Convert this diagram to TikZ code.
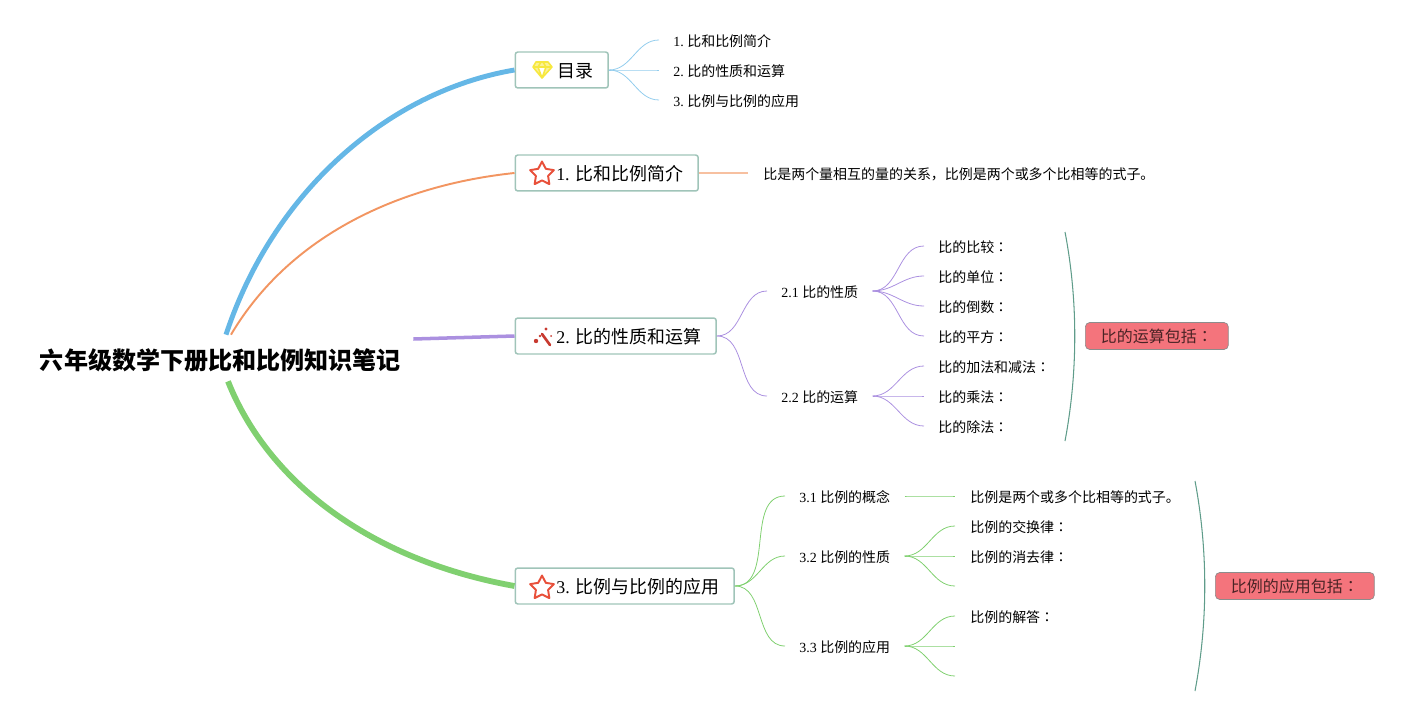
\documentclass[tikz,border=0pt]{standalone}
\usepackage{fontspec}
\setmainfont{Liberation Serif}
\newfontfamily\cjk{Noto Sans CJK SC}
\newfontfamily\cjkjp{Noto Sans CJK JP}
\newcommand{\colonmark}{{\cjkjp ：}}
\usetikzlibrary{shapes.geometric}
\definecolor{tocblue}{HTML}{65B7E6}
\definecolor{introorange}{HTML}{F29561}
\definecolor{rulepurple}{HTML}{AB90E0}
\definecolor{usegreen}{HTML}{80D070}
\definecolor{boxedge}{HTML}{A0C4B9}
\definecolor{bracket}{HTML}{5F9C8A}
\definecolor{summaryfill}{HTML}{F4747C}
\definecolor{starred}{HTML}{E8503A}
\definecolor{wandred}{HTML}{C83A30}
\definecolor{gemyellow}{HTML}{F7E840}
\tikzset{
    rootnode/.style={inner sep=0pt, minimum width=7.2cm, minimum height=0.92cm, text height=13.4pt, text depth=0pt, font=\fontsize{13.7}{16}\selectfont\cjk\bfseries},
    mainbox/.style={draw=boxedge, line width=0.85pt, rounded corners=1.5pt, anchor=west, inner xsep=0.3cm, inner ysep=0pt, minimum height=0.72cm, text width=#1, text height=9.8pt, text depth=1pt, align=right, font=\fontsize{10.2}{12}\selectfont},
    leaf/.style={anchor=west, inner xsep=0.28cm, inner ysep=0pt, text height=8.2pt, text depth=1pt, font=\fontsize{7.95}{10}\selectfont},
    summary/.style={draw=black!45, fill=summaryfill, line width=0.4pt, rounded corners=2.5pt, anchor=west, minimum height=0.54cm, inner ysep=0pt, text=black!70!summaryfill, font=\fontsize{9.1}{11}\selectfont\cjk},
    starmark/.style={star, star points=5, star point ratio=1.95, draw=starred, line width=1.1pt, line join=round, minimum size=0.5cm, inner sep=0pt},
    link/.style={out=0, in=180},
    linkline/.style={line width=0.45pt},
}
\begin{document}
\frenchspacing
\begin{tikzpicture}[x=0.02cm, y=-0.02cm]
    \useasboundingbox (0, 0) rectangle (1419, 716);

    \node[rootnode] (root) at (220.5, 358) {六年级数学下册比和比例知识笔记};

    % main topics
    \node[mainbox=1.26cm] (toc) at (514.5, 70) {\cjk 目录};
    \node[mainbox=3.06cm] (intro) at (514.5, 173) {1. {\cjk 比和比例简介}};
    \node[mainbox=3.42cm] (rules) at (514.5, 336) {2. {\cjk 比的性质和运算}};
    \node[mainbox=3.78cm] (usage) at (514.5, 586) {3. {\cjk 比例与比例的应用}};

    \draw[tocblue, line width=2.8pt] ([xshift=0.11cm]root.north) .. controls (272, 195) and (385, 92) .. (toc.west);
    \draw[introorange, line width=1.1pt] ([xshift=0.21cm]root.north) .. controls (290, 235) and (400, 185) .. (intro.west);
    \draw[rulepurple, line width=2pt] ([shift={(0.24cm,0.38cm)}]root.east) -- (rules.west);
    \draw[usegreen, line width=3.3pt] ([xshift=0.15cm]root.south) .. controls (268, 482) and (370, 560) .. (usage.west);

    % icons
    \node[starmark] (introstar) at (542, 174) {};
    \node[starmark] (usagestar) at (542, 588) {};
    \draw[gemyellow, fill=gemyellow!55, line width=0.9pt, line join=round] (536, 62) -- (548, 62) -- (552, 67) -- (542, 78) -- (533, 67) -- cycle (533, 67) -- (552, 67) (538, 67) -- (542, 78) -- (546, 67) (538, 67) -- (541, 62) (546, 67) -- (543, 62);
    \draw[wandred, line width=1.5pt, line cap=round] (542, 334) -- (550, 345);
    \fill[wandred] (536, 341) circle (2.2) (540, 336) circle (1.3) (546, 329) circle (1.7) (551, 336) circle (1);

    % table of contents
    \node[leaf] (toca) at (659, 40) {1. {\cjk 比和比例简介}};
    \node[leaf] (tocb) at (659, 70) {2. {\cjk 比的性质和运算}};
    \node[leaf] (tocc) at (659, 100) {3. {\cjk 比例与比例的应用}};
    \draw[tocblue!70, linkline] (toc.east) to[link] (toca.west);
    \draw[tocblue!70, linkline] (toc.east) to[link] (tocb.west);
    \draw[tocblue!70, linkline] (toc.east) to[link] (tocc.west);

    % ratio intro
    \node[leaf, inner xsep=0.3cm] (introtext) at (748, 173) {\cjk 比是两个量相互的量的关系，比例是两个或多个比相等的式子。};
    \draw[introorange!60, line width=0.7pt] (intro.east) to[link] (introtext.west);

    % properties and operations
    \node[leaf] (prop) at (767, 291) {2.1 {\cjk 比的性质}};
    \node[leaf] (oper) at (767, 396) {2.2 {\cjk 比的运算}};
    \draw[rulepurple, linkline] (rules.east) to[link] (prop.west);
    \draw[rulepurple, linkline] (rules.east) to[link] (oper.west);

    \node[leaf] (propa) at (924, 246) {{\cjk 比的比较}\colonmark};
    \node[leaf] (propb) at (924, 276) {{\cjk 比的单位}\colonmark};
    \node[leaf] (propc) at (924, 306) {{\cjk 比的倒数}\colonmark};
    \node[leaf] (propd) at (924, 336) {{\cjk 比的平方}\colonmark};
    \node[leaf] (opera) at (924, 366) {{\cjk 比的加法和减法}\colonmark};
    \node[leaf] (operb) at (924, 396) {{\cjk 比的乘法}\colonmark};
    \node[leaf] (operc) at (924, 426) {{\cjk 比的除法}\colonmark};
    \draw[rulepurple, linkline] (prop.east) to[link] (propa.west);
    \draw[rulepurple, linkline] (prop.east) to[link] (propb.west);
    \draw[rulepurple, linkline] (prop.east) to[link] (propc.west);
    \draw[rulepurple, linkline] (prop.east) to[link] (propd.west);
    \draw[rulepurple, linkline] (oper.east) to[link] (opera.west);
    \draw[rulepurple, linkline] (oper.east) to[link] (operb.west);
    \draw[rulepurple, linkline] (oper.east) to[link] (operc.west);

    \node[summary, minimum width=2.86cm] (opersum) at (1085, 336) {比的运算包括\colonmark};
    \coordinate (opertop) at (1065, 232);
    \coordinate (operbot) at (1065, 441);
    \draw[bracket, line width=0.6pt] (opertop) .. controls (1078, 300) and (1078, 372) .. (operbot);

    % proportion and its uses
    \node[leaf] (concept) at (785, 496) {3.1 {\cjk 比例的概念}};
    \node[leaf] (propty) at (785, 556) {3.2 {\cjk 比例的性质}};
    \node[leaf] (apply) at (785, 646) {3.3 {\cjk 比例的应用}};
    \draw[usegreen, linkline] (usage.east) to[link] (concept.west);
    \draw[usegreen, linkline] (usage.east) to[link] (propty.west);
    \draw[usegreen, linkline] (usage.east) to[link] (apply.west);

    \node[leaf, inner xsep=0.3cm] (concepta) at (955, 496) {\cjk 比例是两个或多个比相等的式子。};
    \node[leaf, inner xsep=0.3cm] (proptya) at (955, 526) {{\cjk 比例的交换律}\colonmark};
    \node[leaf, inner xsep=0.3cm] (proptyb) at (955, 556) {{\cjk 比例的消去律}\colonmark};
    \coordinate (proptyc) at (955, 586);
    \node[leaf, inner xsep=0.3cm] (applya) at (955, 616) {{\cjk 比例的解答}\colonmark};
    \coordinate (applyb) at (955, 646);
    \coordinate (applyc) at (955, 676);
    \draw[usegreen, linkline] (concept.east) to[link] (concepta.west);
    \draw[usegreen, linkline] (propty.east) to[link] (proptya.west);
    \draw[usegreen, linkline] (propty.east) to[link] (proptyb.west);
    \draw[usegreen, linkline] (propty.east) to[link] (proptyc);
    \draw[usegreen, linkline] (apply.east) to[link] (applya.west);
    \draw[usegreen, linkline] (apply.east) to[link] (applyb);
    \draw[usegreen, linkline] (apply.east) to[link] (applyc);

    \node[summary, minimum width=3.18cm] (applysum) at (1215, 586) {比例的应用包括\colonmark};
    \coordinate (applytop) at (1195, 481);
    \coordinate (applybot) at (1195, 691);
    \draw[bracket, line width=0.6pt] (applytop) .. controls (1208, 550) and (1208, 622) .. (applybot);
\end{tikzpicture}
\end{document}
